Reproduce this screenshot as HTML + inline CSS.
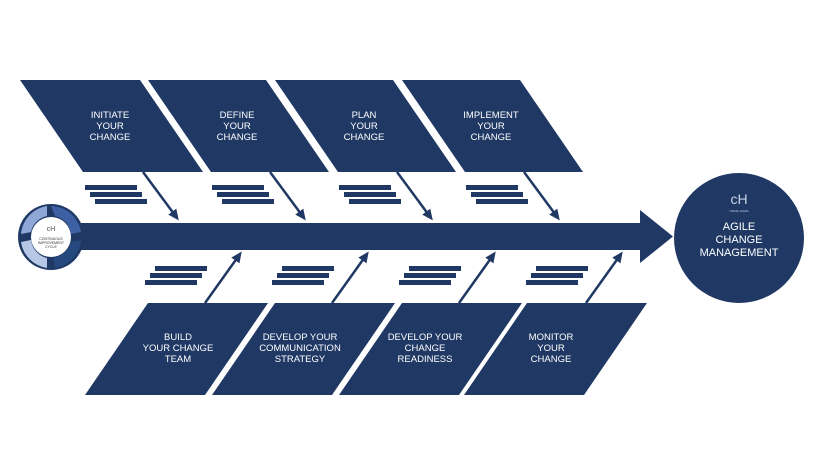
<!DOCTYPE html>
<html><head><meta charset="utf-8"><style>
html,body{margin:0;padding:0;background:#fff;}
svg{display:block;}
text{font-family:"Liberation Sans",sans-serif;fill:#fff;text-anchor:middle;}
</style></head><body>
<svg width="814" height="458" viewBox="0 0 814 458" xmlns="http://www.w3.org/2000/svg">
<defs>
<marker id="ah" markerWidth="11" markerHeight="10" refX="8" refY="5" orient="auto" markerUnits="userSpaceOnUse" viewBox="0 0 11 10"><path d="M0,0 L11,5 L0,10 Z" fill="#1f3864"/></marker>
</defs>
<g fill="#1f3864">
<polygon points="20,80 140,80 203,172 83,172"/>
<polygon points="148,80 266,80 329,172 211,172"/>
<polygon points="275,80 393,80 456,172 338,172"/>
<polygon points="402,80 520,80 583,172 465,172"/>
<polygon points="148,303 268,303 205,395 85,395"/>
<polygon points="275,303 395,303 332,395 212,395"/>
<polygon points="402,303 522,303 459,395 339,395"/>
<polygon points="527,303 647,303 584,395 464,395"/>
<g id="td"><rect x="85" y="185" width="52" height="5"/><rect x="90" y="192" width="52" height="5"/><rect x="95" y="199" width="52" height="5"/></g>
<use href="#td" x="127"/><use href="#td" x="254"/><use href="#td" x="381"/>
<g id="bd"><rect x="155" y="266" width="52" height="5"/><rect x="150" y="273" width="52" height="5"/><rect x="145" y="280" width="52" height="5"/></g>
<use href="#bd" x="127"/><use href="#bd" x="254"/><use href="#bd" x="381"/>
<rect x="78" y="223" width="564" height="27"/>
<polygon points="640,210 673,236.5 640,263"/>
<circle cx="739" cy="238" r="65"/>
</g>
<g stroke="#1f3864" stroke-width="2.5" fill="none">
<line x1="143" y1="172" x2="177" y2="218" marker-end="url(#ah)"/>
<line x1="270" y1="172" x2="304" y2="218" marker-end="url(#ah)"/>
<line x1="397" y1="172" x2="431" y2="218" marker-end="url(#ah)"/>
<line x1="524" y1="172" x2="558" y2="218" marker-end="url(#ah)"/>
<line x1="205" y1="303" x2="240" y2="254" marker-end="url(#ah)"/>
<line x1="332" y1="303" x2="367" y2="254" marker-end="url(#ah)"/>
<line x1="459" y1="303" x2="494" y2="254" marker-end="url(#ah)"/>
<line x1="586" y1="303" x2="621" y2="254" marker-end="url(#ah)"/>
</g>
<circle cx="51" cy="237" r="33" fill="#1f3864"/>
<path d="M51,206 A31,31 0 0,1 81,232 L71,234 A21,21 0 0,0 55,216 Z" fill="#3d5fa3"/>
<path d="M81,240 A31,31 0 0,1 55,268 L53,258 A21,21 0 0,0 71,242 Z" fill="#25497f"/>
<path d="M47,268 A31,31 0 0,1 21,242 L31,240 A21,21 0 0,0 47,258 Z" fill="#b7c8e6"/>
<path d="M21,234 A31,31 0 0,1 47,206 L47,216 A21,21 0 0,0 31,232 Z" fill="#8ea7d6"/>
<circle cx="51" cy="237" r="20" fill="#fff"/>
<text x="51" y="231" style="fill:#555;font-size:7px">cH</text>
<text x="51" y="240" style="fill:#333;font-size:3.5px">CONTINUOUS</text>
<text x="51" y="244" style="fill:#333;font-size:3.5px">IMPROVEMENT</text>
<text x="51" y="248" style="fill:#333;font-size:3.5px">CYCLE</text>
<g font-size="9.5">
<text x="110" y="118">INITIATE</text><text x="110" y="129">YOUR</text><text x="110" y="140">CHANGE</text>
<text x="237" y="118">DEFINE</text><text x="237" y="129">YOUR</text><text x="237" y="140">CHANGE</text>
<text x="364" y="118">PLAN</text><text x="364" y="129">YOUR</text><text x="364" y="140">CHANGE</text>
<text x="491" y="118">IMPLEMENT</text><text x="491" y="129">YOUR</text><text x="491" y="140">CHANGE</text>
<text x="178" y="340">BUILD</text><text x="178" y="351">YOUR CHANGE</text><text x="178" y="362">TEAM</text>
<text x="300" y="340">DEVELOP YOUR</text><text x="300" y="351">COMMUNICATION</text><text x="300" y="362">STRATEGY</text>
<text x="425" y="340">DEVELOP YOUR</text><text x="425" y="351">CHANGE</text><text x="425" y="362">READINESS</text>
<text x="551" y="340">MONITOR</text><text x="551" y="351">YOUR</text><text x="551" y="362">CHANGE</text>
</g>
<text x="739" y="204" font-size="14" style="fill:#c9d3e6">cH</text>
<text x="739" y="212" font-size="3" style="fill:#c9d3e6">CRAIG HILES</text>
<text x="739" y="230" font-size="11">AGILE</text>
<text x="739" y="243" font-size="11">CHANGE</text>
<text x="739" y="256" font-size="11">MANAGEMENT</text>
</svg>
</body></html>
